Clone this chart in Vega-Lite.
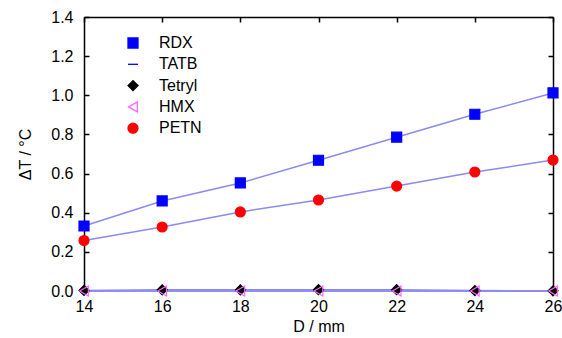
{
  "$schema": "https://vega.github.io/schema/vega-lite/v6.json",
  "width": 469,
  "height": 274,
  "autosize": {"type": "none"},
  "padding": {"left": 84, "top": 17, "right": 9, "bottom": 47},
  "background": "white",
  "config": {
    "view": {"stroke": null},
    "font": "Liberation Sans",
    "axis": {"grid": false, "labelFont": "Liberation Sans", "titleFont": "Liberation Sans", "labelFontSize": 16, "titleFontSize": 16, "titleFontWeight": "normal", "labelColor": "#000", "titleColor": "#000", "domainColor": "#000", "tickColor": "#000", "domainWidth": 1.5, "tickWidth": 1.5, "labelFlush": false}
  },
  "data": {"values": [
    {"D": 14, "material": "RDX", "dT": 0.332},
    {"D": 16, "material": "RDX", "dT": 0.46},
    {"D": 18, "material": "RDX", "dT": 0.552},
    {"D": 20, "material": "RDX", "dT": 0.668},
    {"D": 22, "material": "RDX", "dT": 0.786},
    {"D": 24, "material": "RDX", "dT": 0.903},
    {"D": 26, "material": "RDX", "dT": 1.012},
    {"D": 14, "material": "TATB", "dT": 0.0},
    {"D": 16, "material": "TATB", "dT": 0.0},
    {"D": 18, "material": "TATB", "dT": 0.0},
    {"D": 20, "material": "TATB", "dT": 0.0},
    {"D": 22, "material": "TATB", "dT": 0.0},
    {"D": 24, "material": "TATB", "dT": 0.0},
    {"D": 26, "material": "TATB", "dT": 0.0},
    {"D": 14, "material": "Tetryl", "dT": 0.003},
    {"D": 16, "material": "Tetryl", "dT": 0.006},
    {"D": 18, "material": "Tetryl", "dT": 0.006},
    {"D": 20, "material": "Tetryl", "dT": 0.007},
    {"D": 22, "material": "Tetryl", "dT": 0.007},
    {"D": 24, "material": "Tetryl", "dT": 0.002},
    {"D": 26, "material": "Tetryl", "dT": 0.001},
    {"D": 14, "material": "HMX", "dT": 0.0},
    {"D": 16, "material": "HMX", "dT": 0.0},
    {"D": 18, "material": "HMX", "dT": 0.0},
    {"D": 20, "material": "HMX", "dT": 0.0},
    {"D": 22, "material": "HMX", "dT": 0.0},
    {"D": 24, "material": "HMX", "dT": 0.0},
    {"D": 26, "material": "HMX", "dT": 0.0},
    {"D": 14, "material": "PETN", "dT": 0.258},
    {"D": 16, "material": "PETN", "dT": 0.327},
    {"D": 18, "material": "PETN", "dT": 0.404},
    {"D": 20, "material": "PETN", "dT": 0.465},
    {"D": 22, "material": "PETN", "dT": 0.536},
    {"D": 24, "material": "PETN", "dT": 0.608},
    {"D": 26, "material": "PETN", "dT": 0.669}
  ]},
  "layer": [
    {
      "mark": {"type": "line", "stroke": "#8a8af2", "strokeWidth": 1.5, "clip": false},
      "encoding": {
        "x": {"field": "D", "type": "quantitative", "scale": {"domain": [14, 26], "nice": false, "zero": false},
          "axis": {"orient": "bottom", "title": "D / mm", "values": [14, 16, 18, 20, 22, 24, 26], "domain": false, "ticks": false, "labelPadding": 7, "titlePadding": 4}},
        "y": {"field": "dT", "type": "quantitative", "scale": {"domain": [0, 1.4], "nice": false},
          "axis": {"orient": "left", "title": "ΔT / °C", "values": [0, 0.2, 0.4, 0.6, 0.8, 1.0, 1.2, 1.4], "format": ".1f", "tickSize": -5, "labelPadding": 16, "titlePadding": 17}},
        "detail": {"field": "material", "type": "nominal"}
      }
    },
    {
      "mark": {"type": "point", "filled": false, "opacity": 1, "strokeWidth": 1.2, "size": 100, "clip": false},
      "encoding": {
        "x": {"field": "D", "type": "quantitative",
          "axis": {"orient": "top", "title": null, "labels": false, "values": [14, 16, 18, 20, 22, 24, 26], "tickSize": -5}},
        "y": {"field": "dT", "type": "quantitative",
          "axis": {"orient": "right", "title": null, "labels": false, "values": [0, 0.2, 0.4, 0.6, 0.8, 1.0, 1.2, 1.4], "tickSize": -5}},
        "shape": {"field": "material", "type": "nominal",
          "scale": {"domain": ["RDX", "TATB", "Tetryl", "HMX", "PETN"], "range": ["square", "stroke", "diamond", "triangle-left", "circle"]},
          "legend": {"title": null, "orient": "none", "legendX": 41, "legendY": 18, "padding": 0, "rowPadding": 5.3, "labelFont": "Liberation Sans", "labelFontSize": 16, "labelColor": "#000", "symbolSize": 100, "labelOffset": 18, "symbolStrokeWidth": 1.3}},
        "fill": {"field": "material", "type": "nominal",
          "scale": {"domain": ["RDX", "TATB", "Tetryl", "HMX", "PETN"], "range": ["#0000ff", "transparent", "#000000", "transparent", "#ff0000"]},
          "legend": {"title": null, "orient": "none", "legendX": 41, "legendY": 18, "padding": 0, "rowPadding": 5.3, "labelFont": "Liberation Sans", "labelFontSize": 16, "labelColor": "#000", "symbolSize": 100, "labelOffset": 18, "symbolStrokeWidth": 1.3}},
        "stroke": {"field": "material", "type": "nominal",
          "scale": {"domain": ["RDX", "TATB", "Tetryl", "HMX", "PETN"], "range": ["#0000ff", "#0000ff", "#000000", "#ff66ff", "#ff0000"]},
          "legend": {"title": null, "orient": "none", "legendX": 41, "legendY": 18, "padding": 0, "rowPadding": 5.3, "labelFont": "Liberation Sans", "labelFontSize": 16, "labelColor": "#000", "symbolSize": 100, "labelOffset": 18, "symbolStrokeWidth": 1.3}}
      }
    }
  ]
}
